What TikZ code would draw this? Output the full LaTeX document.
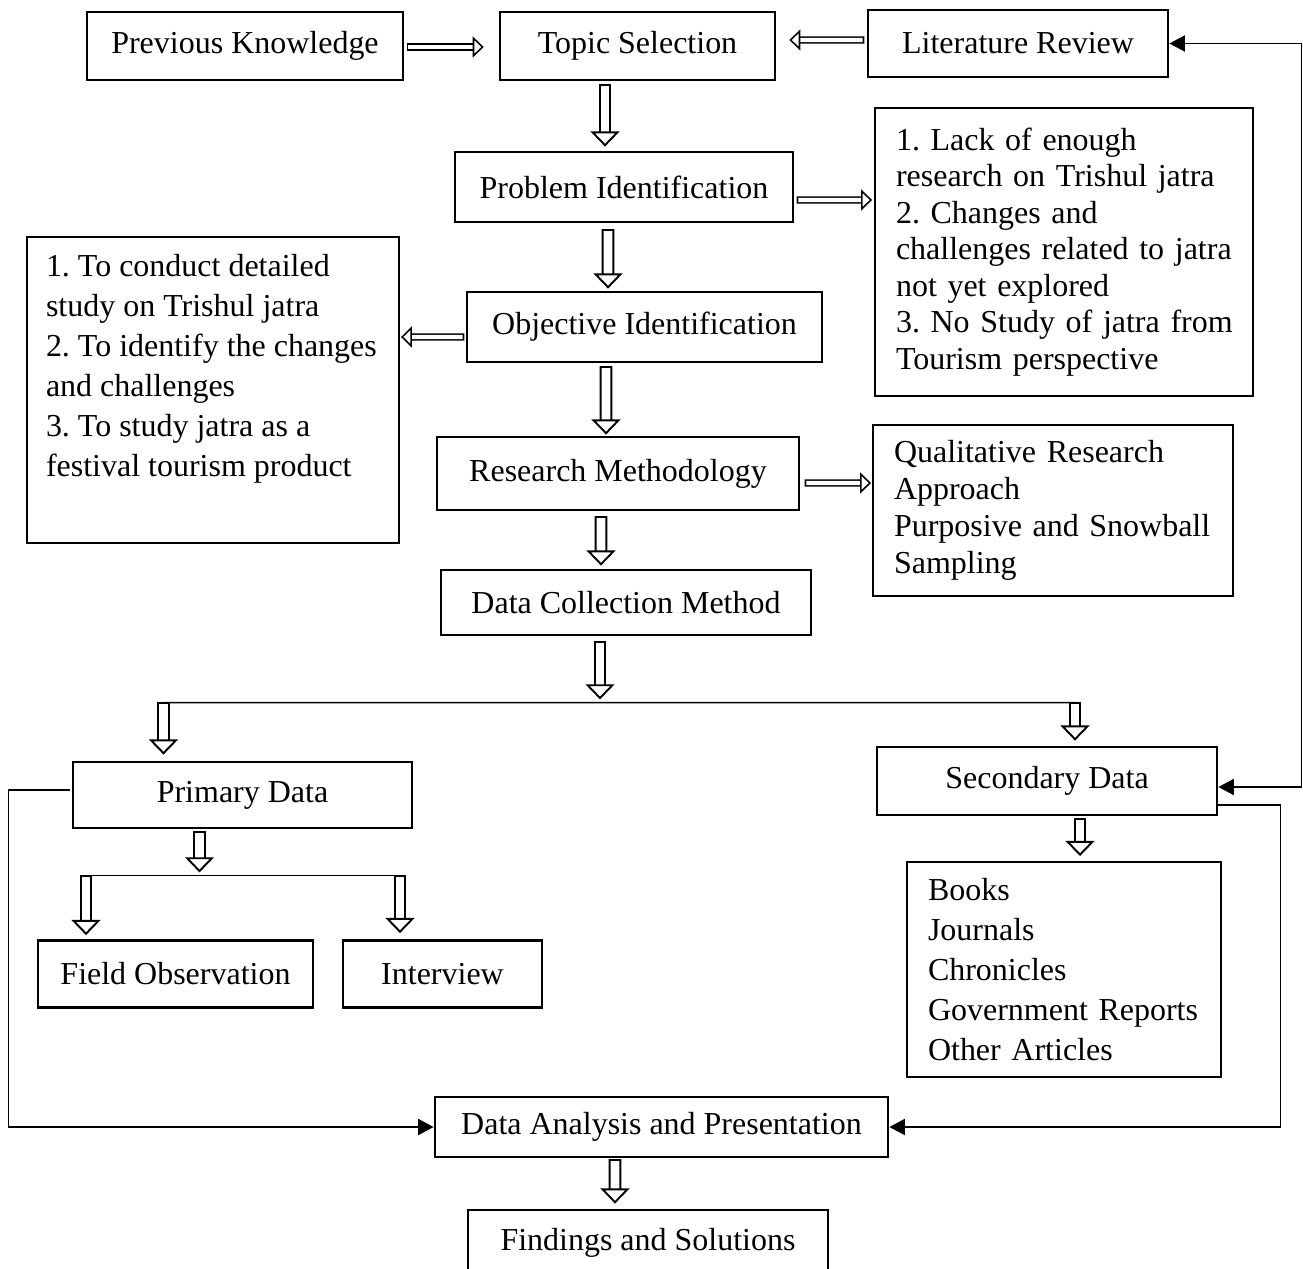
\documentclass[tikz,border=0pt]{standalone}
\usepackage{fontspec}
\setmainfont{Liberation Serif}
\usetikzlibrary{arrows.meta,calc}

\begin{document}
\frenchspacing
\begin{tikzpicture}[
		font=\fontsize{9.1}{11}\selectfont,
		block/.style={draw, line width=0.8pt, inner sep=0pt},
		notes/.style={draw, line width=0.55pt, align=left, inner xsep=0.21cm},
		downflow/.style={double, double distance=2.5pt, line width=0.55pt, line cap=rect, -{Triangle[open, fill=white, length=4.3pt, width=8.2pt]}},
		sideflow/.style={double, double distance=1.2pt, line width=0.45pt, line cap=rect, -{Triangle[open, fill=white, length=3.1pt, width=6pt]}},
		link/.style={line width=0.4pt, >={Triangle[length=4.4pt, width=4.6pt]}}]
		\useasboundingbox (0,0) rectangle (13.03,-12.68);
		\draw (2.45,-0.46) node [block, minimum width=3.16cm, minimum height=0.68cm] (prev) {Previous Knowledge};
		\draw (6.375,-0.46) node [block, minimum width=2.75cm, minimum height=0.68cm] (topic) {Topic Selection};
		\draw (10.18,-0.435) node [block, minimum width=3.00cm, minimum height=0.67cm] (lit) {Literature Review};
		\draw (6.24,-1.87) node [block, minimum width=3.38cm, minimum height=0.70cm] (prob) {Problem Identification};
		\draw (10.64,-2.52) node [notes, text width=3.36cm, minimum height=2.88cm, font=\fontsize{9.1}{10.4}\selectfont] (lack) {1. Lack of enough\\\mbox{research on Trishul jatra}\\2. Changes and\\\mbox{challenges related to jatra}\\not yet explored\\\mbox{3. No Study of jatra from}\\Tourism perspective};
		\draw (2.13,-3.90) node [draw, line width=0.55pt, inner xsep=0.19cm, inner ysep=0.17cm, font=\fontsize{9.1}{11.4}\selectfont] (aims) {\begin{minipage}[t][2.72cm][t]{3.34cm}\raggedright 1. To conduct detailed\\study on Trishul jatra\\\mbox{2. To identify the changes}\\and challenges\\3. To study jatra as a\\festival tourism product\end{minipage}};
		\draw (6.445,-3.27) node [block, minimum width=3.55cm, minimum height=0.70cm] (obj) {Objective Identification};
		\draw (6.18,-4.735) node [block, minimum width=3.62cm, minimum height=0.73cm] (meth) {Research Methodology};
		\draw (10.53,-5.105) node [notes, text width=3.18cm, minimum height=1.71cm, font=\fontsize{9.1}{10.5}\selectfont] (qual) {Qualitative Research\\Approach\\\mbox{Purposive and Snowball}\\Sampling};
		\draw (6.26,-6.025) node [block, minimum width=3.70cm, minimum height=0.65cm] (coll) {Data Collection Method};
		\draw (2.425,-7.95) node [block, minimum width=3.39cm, minimum height=0.66cm] (prim) {Primary Data};
		\draw (10.47,-7.81) node [block, minimum width=3.40cm, minimum height=0.68cm] (sec) {Secondary Data};
		\draw (1.755,-9.74) node [block, minimum width=2.75cm, minimum height=0.67cm] (field) {Field Observation};
		\draw (4.425,-9.74) node [block, minimum width=1.99cm, minimum height=0.67cm] (intv) {Interview};
		\draw (10.64,-9.695) node [notes, text width=2.72cm, minimum height=2.15cm, font=\fontsize{9.1}{11.4}\selectfont] (books) {Books\\Journals\\Chronicles\\Government Reports\\Other Articles};
		\draw (6.615,-11.27) node [block, minimum width=4.53cm, minimum height=0.60cm] (anal) {Data Analysis and Presentation};
		\draw (6.48,-12.43) node [block, minimum width=3.60cm, minimum height=0.66cm] (find) {Findings and Solutions};
		\coordinate (forkL) at ($(prim.north)+(-0.79,0.58)$);
		\coordinate (forkR) at ($(sec.north)+(0.28,0.43)$);
		\coordinate (subL) at ($(field.north)+(-0.895,0.635)$);
		\coordinate (subR) at ($(intv.north)+(-0.425,0.635)$);
		\draw[link] (forkL) -- (forkR);
		\draw[link] (subL) -- (subR);
		\draw[sideflow] ($(prev.east)+(0.06,-0.01)$) -- ($(topic.west)+(-0.15,-0.01)$);
		\draw[sideflow] ($(lit.west)+(-0.06,0.035)$) -- ($(topic.east)+(0.13,0.06)$);
		\draw[sideflow] ($(prob.east)+(0.06,-0.13)$) -- ($(lack.west)+(-0.02,0.52)$);
		\draw[sideflow] ($(obj.west)+(-0.05,-0.10)$) -- ($(aims.east)+(0.01,0.53)$);
		\draw[sideflow] ($(meth.east)+(0.08,-0.095)$) -- ($(qual.west)+(-0.01,0.275)$);
		\draw[downflow] ($(topic.south)+(-0.325,-0.09)$) -- ($(prob.north)+(-0.19,0.04)$);
		\draw[downflow] ($(prob.south)+(-0.16,-0.12)$) -- ($(obj.north)+(-0.365,0.02)$);
		\draw[downflow] ($(obj.south)+(-0.385,-0.09)$) -- ($(meth.north)+(-0.12,0.01)$);
		\draw[downflow] ($(meth.south)+(-0.17,-0.11)$) -- ($(coll.north)+(-0.25,0.03)$);
		\draw[downflow] ($(coll.south)+(-0.26,-0.11)$) -- ($(coll.south)+(-0.26,-0.63)$);
		\draw[downflow] ($(forkL)+(0,-0.06)$) -- ($(prim.north)+(-0.79,0.06)$);
		\draw[downflow] ($(forkR)+(0,-0.06)$) -- ($(sec.north)+(0.28,0.05)$);
		\draw[downflow] ($(prim.south)+(-0.43,-0.08)$) -- ($(prim.south)+(-0.43,-0.43)$);
		\draw[downflow] ($(subL)+(0,-0.06)$) -- ($(field.north)+(-0.895,0.04)$);
		\draw[downflow] ($(subR)+(0,-0.06)$) -- ($(intv.north)+(-0.425,0.06)$);
		\draw[downflow] ($(sec.south)+(0.33,-0.08)$) -- ($(books.north)+(0.16,0.05)$);
		\draw[downflow] ($(anal.south)+(-0.465,-0.07)$) -- ($(find.north)+(-0.33,0.05)$);
		\draw[link, <->] (lit.east) -- ++(1.32,0) |- ($(sec.east)+(0,-0.06)$);
		\draw[link, ->] ($(prim.west)+(-0.02,0.05)$) -- ++(-0.61,0) |- (anal.west);
		\draw[link, ->] ($(sec.east)+(0,-0.24)$) -- ++(0.62,0) |- (anal.east);
	\end{tikzpicture}
\end{document}
